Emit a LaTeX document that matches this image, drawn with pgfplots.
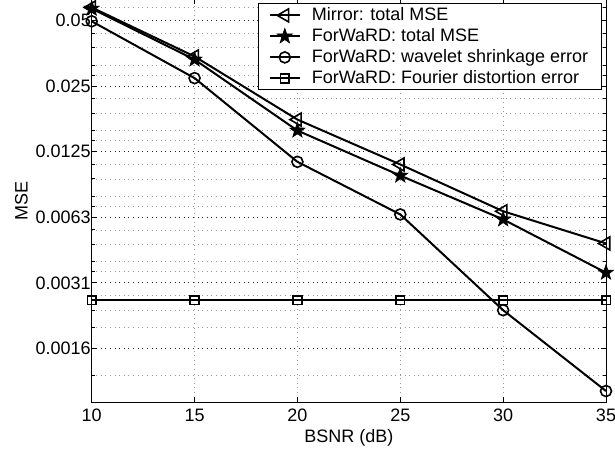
\documentclass[border=0pt]{standalone}
\usepackage{fontspec}
\setmainfont{Liberation Sans}
\usepackage{pgfplots}
\pgfplotsset{compat=1.18}
\usetikzlibrary{plotmarks}

\pgfdeclareplotmark{pstar}{%
  \pgfpathmoveto{\pgfpointpolar{90}{\pgfplotmarksize}}%
  \pgfpathlineto{\pgfpointpolar{126}{0.40\pgfplotmarksize}}%
  \pgfpathlineto{\pgfpointpolar{162}{\pgfplotmarksize}}%
  \pgfpathlineto{\pgfpointpolar{198}{0.40\pgfplotmarksize}}%
  \pgfpathlineto{\pgfpointpolar{234}{\pgfplotmarksize}}%
  \pgfpathlineto{\pgfpointpolar{270}{0.40\pgfplotmarksize}}%
  \pgfpathlineto{\pgfpointpolar{306}{\pgfplotmarksize}}%
  \pgfpathlineto{\pgfpointpolar{342}{0.40\pgfplotmarksize}}%
  \pgfpathlineto{\pgfpointpolar{18}{\pgfplotmarksize}}%
  \pgfpathlineto{\pgfpointpolar{54}{0.40\pgfplotmarksize}}%
  \pgfpathclose
  \pgfusepathqfillstroke
}

\begin{document}
\begin{tikzpicture}[font=\fontsize{18}{21}\selectfont]
\begin{axis}[
  name=ax,
  scale only axis,
  width=514.3pt, height=402.7pt,
  xmin=10, xmax=35,
  ymode=log,
  ymin=0.000886, ymax=0.0625,
  clip=false,
  xtick={10,15,20,25,30,35},
  xticklabels={10,15,20,25,30,35},
  ytick={0.0015625,0.003125,0.00625,0.0125,0.025,0.05},
  yticklabels={0.0016,0.0031,0.0063,0.0125,0.025,0.05},
  minor ytick={0.001171875,0.001953125,0.00234375,0.002734375,0.003515625,0.00390625,0.0046875,0.00546875,0.00703125,0.0078125,0.009375,0.0109375,0.0140625,0.015625,0.01875,0.021875,0.028125,0.03125,0.0375,0.04375,0.0575},
  /pgf/number format/assume math mode=true,
  tick align=inside,
  major tick length=5pt, minor tick length=3pt,
  tick style={black, line width=0.9pt},
  axis line style={black, line width=1pt},
  xmajorgrids, yminorgrids,
  major grid style={dash pattern=on 1pt off 3.6pt, black!40, line width=0.7pt},
  minor grid style={dash pattern=on 1pt off 3.6pt, black!40, line width=0.7pt},
  extra y ticks={0.0015625,0.003125,0.00625,0.0125,0.025,0.05},
  extra y tick labels={},
  extra y tick style={grid=major, major grid style={dash pattern=on 1pt off 3.6pt, black!85, line width=0.7pt}},
  xticklabel style={yshift=-3pt},
  yticklabel style={xshift=2.6pt},
  xlabel={BSNR (dB)},
  ylabel={MSE},
  xlabel style={at={(axis description cs:0.5,-0.088)}, anchor=center},
  ylabel style={at={(axis description cs:-0.1365,0.5)}, anchor=center, rotate=0},
  legend cell align=left,
  legend image code/.code={\draw[mark repeat=2,mark phase=2,#1] plot coordinates {(0pt,0pt) (15pt,0pt) (30pt,0pt)};},
  legend style={at={(1,1)}, anchor=north east, xshift=-4.3pt, yshift=-4pt,
    draw=black, line width=1pt, fill=white,
    inner xsep=10pt, inner ysep=2pt, row sep=2pt,
    nodes={inner xsep=0pt, inner ysep=0pt, text height=15pt, text depth=4pt},
    /tikz/every odd column/.append style={column sep=11pt},
    font=\fontsize{18}{21}\selectfont},
  every axis plot/.append style={black, line width=2pt},
]
\addplot[mark=triangle, mark size=7.5pt, mark options={solid, rotate=90, line width=1.6pt}]
  coordinates {(10,0.0574) (15,0.0342) (20,0.01755) (25,0.01092) (30,0.00666) (35,0.00474)};
\addlegendentry{Mirror: total MSE}
\addplot[mark=pstar, mark size=8pt, mark options={solid, fill=black, line width=0.6pt}]
  coordinates {(10,0.0567) (15,0.0331) (20,0.01563) (25,0.00971) (30,0.00611) (35,0.00348)};
\addlegendentry{ForWaRD: total MSE}
\addplot[mark=o, mark size=5.5pt, mark options={solid, line width=1.6pt}]
  coordinates {(10,0.0496) (15,0.0272) (20,0.01123) (25,0.00644) (30,0.00234) (35,0.000996)};
\addlegendentry{ForWaRD: wavelet shrinkage error}
\addplot[mark=square, mark size=4.3pt, mark options={solid, line width=1.6pt}]
  coordinates {(10,0.0026) (15,0.0026) (20,0.0026) (25,0.0026) (30,0.0026) (35,0.0026)};
\addlegendentry{ForWaRD: Fourier distortion error\hspace*{12pt}}
\end{axis}
\pgfresetboundingbox
\path[use as bounding box] ([xshift=-91.7pt,yshift=-52.3pt]ax.south west) rectangle ([xshift=9pt,yshift=-0.6pt]ax.north east);
\end{tikzpicture}
\end{document}
